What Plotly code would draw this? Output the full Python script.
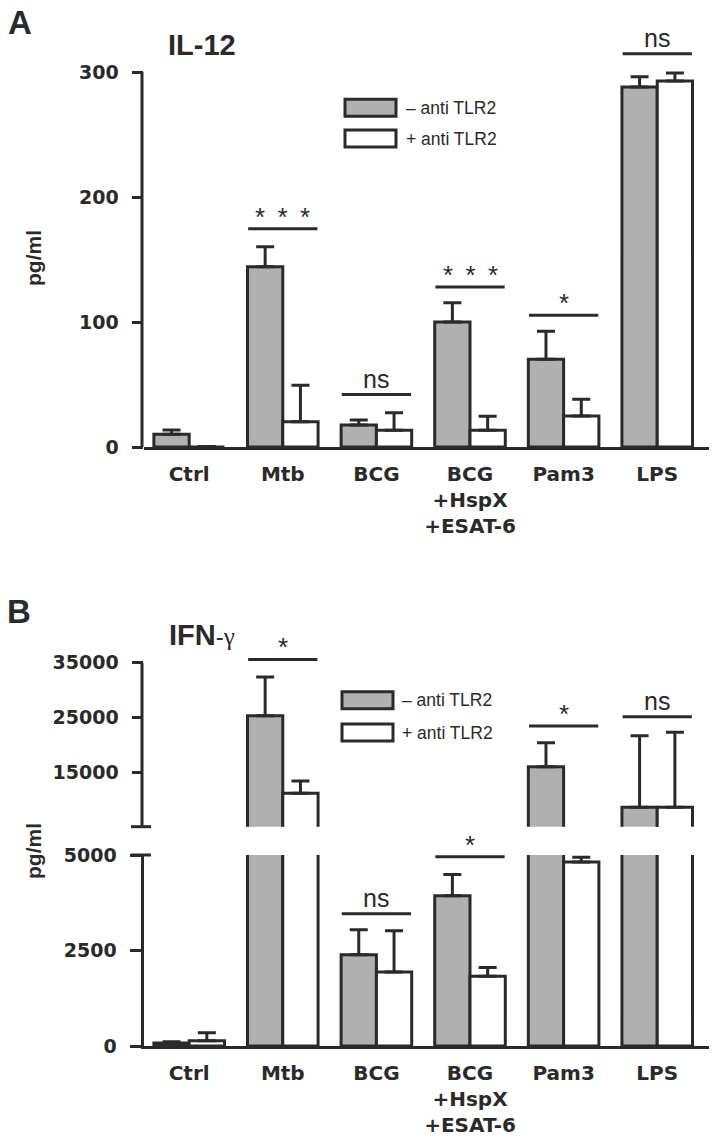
import plotly.graph_objects as go

W, H = 716, 1147

categories = ["Ctrl", "Mtb", "BCG", "BCG<br>+HspX<br>+ESAT-6", "Pam3", "LPS"]
series_names = ["\u2013 anti TLR2", "+ anti TLR2"]

# IL-12, pg/ml (bar value and top of error bar)
il12_minus = [10.2, 144.3, 17.6, 100.0, 70.2, 288.0]
il12_minus_top = [13.6, 160.3, 21.6, 115.5, 92.6, 296.3]
il12_plus = [0.0, 20.3, 13.4, 13.4, 24.8, 292.8]
il12_plus_top = [0.5, 49.4, 27.5, 24.6, 38.2, 299.2]
il12_sig = ["", "* \u2009* \u2009*", "ns", "* \u2009* \u2009*", "*", "ns"]
il12_sig_y = [None, 174.7, 42.0, 128.0, 105.4, 314.7]

# IFN-gamma, pg/ml
ifn_minus = [80, 25300, 2392, 3930, 15970, 8550]
ifn_minus_top = [110, 32370, 3044, 4487, 20357, 21636]
ifn_plus = [140, 11100, 1940, 1826, 4817, 8550]
ifn_plus_top = [350, 13355, 3018, 2053, 4940, 22258]
ifn_sig = ["", "*", "ns", "*", "*", "ns"]
ifn_sig_y = [None, 35600, 3461, 4956, 23400, 25100]
ifn_break = 5000

GRAY = "#b0b0b0"
INK = "#2a2a2a"
FONT = "Liberation Sans, Arial, sans-serif"
WIDE = "DejaVu Sans, sans-serif"


def px(x):
    return x / W


def py(y):
    return 1 - y / H


def add_pair(fig, xaxis, yaxis, minus, minus_top, plus, plus_top, floor=None):
    for name, vals, tops, color in [
        (series_names[0], minus, minus_top, GRAY),
        (series_names[1], plus, plus_top, "white"),
    ]:
        if floor is not None:
            # upper part of the broken axis: only bars that reach it
            keep = [v > floor for v in vals]
            vals = [v if k else None for v, k in zip(vals, keep)]
            tops = [t if k else None for t, k in zip(tops, keep)]
        fig.add_trace(
            go.Bar(
                x=list(range(len(categories))),
                y=vals,
                name=name,
                showlegend=False,
                marker=dict(color=color, line=dict(color=INK, width=3)),
                error_y=dict(
                    type="data",
                    symmetric=False,
                    array=[(t - v) if v is not None else 0 for t, v in zip(tops, vals)],
                    arrayminus=[0] * len(vals),
                    color=INK,
                    thickness=3,
                    width=9,
                ),
                xaxis=xaxis,
                yaxis=yaxis,
            )
        )


fig = go.Figure()
add_pair(fig, "x", "y", il12_minus, il12_minus_top, il12_plus, il12_plus_top)
add_pair(fig, "x2", "y2", ifn_minus, ifn_minus_top, ifn_plus, ifn_plus_top)
add_pair(fig, "x2", "y3", ifn_minus, ifn_minus_top, ifn_plus, ifn_plus_top, floor=ifn_break)

x_dom = [px(143.5), px(709)]
x_rng = [-0.488, 5.553]

xcommon = dict(
    domain=x_dom, range=x_rng, showline=True, linewidth=3, linecolor=INK,
    ticks="", tickvals=list(range(len(categories))), ticktext=categories,
    tickfont=dict(family=WIDE, size=20, color=INK, weight="bold"),
    showgrid=False, zeroline=False, ticklabelstandoff=7, automargin=False,
)
ycommon = dict(
    ticks="outside", ticklen=11, tickwidth=3, tickcolor=INK,
    tickfont=dict(family=WIDE, size=19, color=INK, weight="bold"),
    showgrid=False, zeroline=False, linecolor=INK, linewidth=3,
    ticklabelstandoff=9, tickformat="d", automargin=False,
)

a_zero, a_scale = 447.0, 1.25
b_lo_zero, b_lo_top = 1046.0, 855.0
b_up_bottom, b_up_scale = 826.7, 164.0 / 30000

fig.update_layout(
    template="none",
    width=W, height=H,
    margin=dict(l=0, r=0, t=0, b=0, autoexpand=False),
    paper_bgcolor="white", plot_bgcolor="rgba(0,0,0,0)",
    barmode="group", bargap=0.246, bargroupgap=0,
    showlegend=False,
    xaxis=dict(anchor="y", **xcommon),
    yaxis=dict(
        anchor="x", domain=[py(a_zero), py(a_zero - 330 * a_scale)],
        range=[0, 330], tickvals=[0, 100, 200, 300], showline=False, **ycommon,
    ),
    xaxis2=dict(anchor="y2", **xcommon),
    yaxis2=dict(
        anchor="x2", domain=[py(b_lo_zero), py(b_lo_top)],
        range=[0, ifn_break], tickvals=[0, 2500, 5000], showline=True, **ycommon,
    ),
    yaxis3=dict(
        anchor="x2",
        domain=[py(b_up_bottom), py(b_up_bottom - (38000 - ifn_break) * b_up_scale)],
        range=[ifn_break, 38000], tickvals=[15000, 25000, 35000], showline=False,
        **ycommon,
    ),
)

shapes = []
# y axis lines that stop at the top tick
shapes.append(dict(type="line", xref="paper", yref="y", x0=px(142), x1=px(142),
                   y0=0, y1=300, line=dict(color=INK, width=3)))
shapes.append(dict(type="line", xref="paper", yref="y3", x0=px(142), x1=px(142),
                   y0=ifn_break, y1=35000, line=dict(color=INK, width=3)))
# axis break caps
for yb in [py(b_up_bottom), py(b_lo_top)]:
    shapes.append(dict(type="line", xref="paper", yref="paper", x0=px(131), x1=px(151),
                       y0=yb, y1=yb, line=dict(color=INK, width=3)))

annotations = []


def add_sig(xref, yref, i, yv, label):
    shapes.append(dict(type="line", xref=xref, yref=yref, x0=i - 0.37, x1=i + 0.37,
                       y0=yv, y1=yv, line=dict(color=INK, width=3)))
    star = label.startswith("*")
    annotations.append(dict(
        x=i, y=yv, xref=xref, yref=yref, text=label, showarrow=False,
        yanchor="bottom", yshift=-5 if star else 0,
        font=dict(family=FONT, size=26 if star else 25, color=INK),
    ))


for i, (lab, yv) in enumerate(zip(il12_sig, il12_sig_y)):
    if lab:
        add_sig("x", "y", i, yv, lab)
for i, (lab, yv) in enumerate(zip(ifn_sig, ifn_sig_y)):
    if lab:
        add_sig("x2", "y2" if yv < ifn_break else "y3", i, yv, lab)

# legends
for (bx, top1, top2, tx) in [(345, 99.3, 130.0, 404), (342, 691.7, 724.0, 400)]:
    for top, fill, name in [(top1, GRAY, series_names[0]), (top2, "white", series_names[1])]:
        shapes.append(dict(type="rect", xref="paper", yref="paper",
                           x0=px(bx), x1=px(bx + 51), y0=py(top), y1=py(top + 17),
                           fillcolor=fill, line=dict(color=INK, width=3)))
        annotations.append(dict(x=px(tx), y=py(top + 8.5), xref="paper", yref="paper",
                                text=name, showarrow=False, xanchor="left", yanchor="middle",
                                font=dict(family=FONT, size=17.5, color=INK)))

# panel letters, titles, y titles
for text, x, y, size in [
    ("<b>A</b>", 20, 22, 33),
    ("<b>IL-12</b>", 202, 45, 29),
    ("<b>B</b>", 19, 611, 33),
    ("<b>IFN</b><span style='font-size:24px'>-</span>"
     "<span style='font-family:Liberation Serif;font-size:25px'>\u03b3</span>", 202, 635, 29),
]:
    annotations.append(dict(x=px(x), y=py(y), xref="paper", yref="paper", text=text,
                            showarrow=False, xanchor="center", yanchor="middle",
                            font=dict(family=FONT, size=size, color=INK)))
for y in [258, 851]:
    annotations.append(dict(x=px(33), y=py(y), xref="paper", yref="paper",
                            text="<b>pg/ml</b>", textangle=-90, showarrow=False,
                            xanchor="center", yanchor="middle",
                            font=dict(family=FONT, size=21, color=INK)))

fig.update_layout(shapes=shapes, annotations=annotations)
fig.write_html(
    "out.html",
    config={"displayModeBar": False},
    post_script="document.body.style.margin='0px';",
)
